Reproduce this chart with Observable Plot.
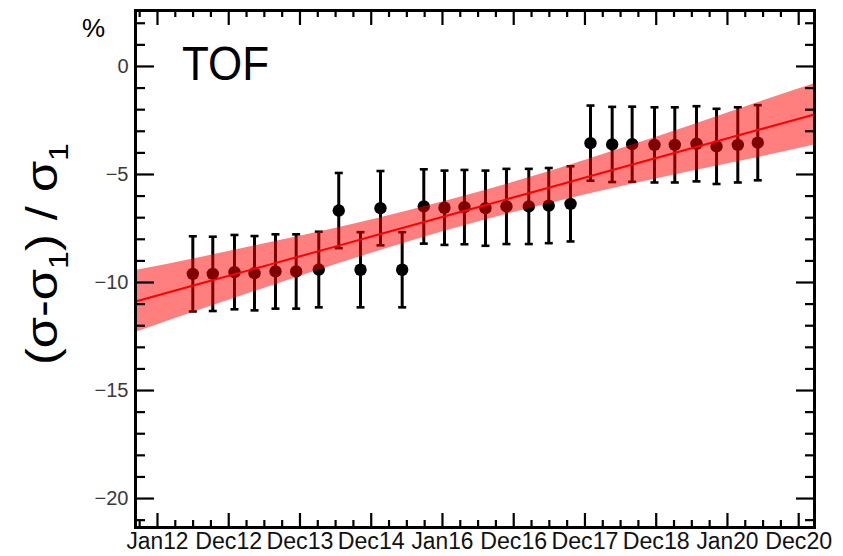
<!DOCTYPE html>
<html>
<head>
<meta charset="utf-8">
<script src="https://cdn.jsdelivr.net/npm/d3@7"></script>
<script src="https://cdn.jsdelivr.net/npm/@observablehq/plot@0.6"></script>
<style>
  html, body { margin: 0; padding: 0; background: #fff; }
  #chart { position: relative; width: 843px; height: 556px; }
  #chart svg { display: block; }
</style>
</head>
<body>
<div id="chart"></div>
<script>
// Time axis: labelled major ticks (decimal years) and their labels
const tickLabels = ["Jan12", "Dec12", "Dec13", "Dec14", "Jan16", "Dec16", "Dec17", "Dec18", "Jan20", "Dec20"];
const tickYears = [2012.000, 2012.992, 2013.984, 2014.976, 2015.968, 2016.960, 2017.952, 2018.944, 2019.936, 2020.928];

// Y axis labelled ticks (%)
const yTickValues = [-20, -15, -10, -5, 0];

// Measurements: time (decimal year), relative deviation (%), and error (%)
const measTime = [
  2012.492, 2012.770, 2013.072, 2013.351, 2013.643, 2013.931, 2014.246, 2014.524,
  2014.827, 2015.105, 2015.407, 2015.708, 2015.996, 2016.274, 2016.567, 2016.859,
  2017.170, 2017.448, 2017.751, 2018.029, 2018.331, 2018.609, 2018.920, 2019.203,
  2019.505, 2019.784, 2020.080, 2020.358
];
const measValue = [
  -9.60, -9.60, -9.52, -9.57, -9.49, -9.49, -9.40, -6.67,
  -9.41, -6.56, -9.41, -6.48, -6.54, -6.51, -6.56, -6.48,
  -6.48, -6.44, -6.36, -3.55, -3.61, -3.60, -3.63, -3.63,
  -3.58, -3.70, -3.63, -3.53
];
const measError = [
  1.74, 1.72, 1.72, 1.72, 1.72, 1.72, 1.75, 1.74,
  1.74, 1.72, 1.74, 1.72, 1.72, 1.72, 1.74, 1.74,
  1.74, 1.74, 1.74, 1.74, 1.74, 1.74, 1.74, 1.74,
  1.74, 1.74, 1.74, 1.74
];

// Linear fit with its confidence band
const fitTime = [2011.694, 2012.599, 2013.573, 2014.548, 2015.523, 2016.497, 2017.472, 2018.447, 2019.421, 2020.396, 2021.148];
const fitMid  = [-10.88, -10.05, -9.16, -8.27, -7.37, -6.48, -5.59, -4.69, -3.80, -2.91, -2.22];
const fitHigh = [-9.45, -8.84, -8.15, -7.44, -6.65, -5.80, -4.85, -3.81, -2.74, -1.63, -0.80];
const fitLow  = [-12.31, -11.26, -10.17, -9.10, -8.09, -7.16, -6.33, -5.57, -4.86, -4.19, -3.64];

const points = measTime.map((t, i) => ({t, v: measValue[i], e: measError[i]}));
const band = fitTime.map((t, i) => ({t, mid: fitMid[i], lo: fitLow[i], hi: fitHigh[i]}));

// Minor ticks: quarter divisions of the time axis, one unit on the y axis
const xStep = tickYears[1] - tickYears[0];
const xMinor = [tickYears[0] - xStep / 4];
tickYears.forEach((t, i) => { if (i < tickYears.length - 1) for (let k = 1; k < 4; k++) xMinor.push(t + k * xStep / 4); });
const yMinor = d3.range(-21, 3).filter(v => v % 5 !== 0);

const W = 843, H = 556;
const mL = 135, mR = 29, mT = 10, mB = 29;
const fw = W - mL - mR, fh = H - mT - mB;
const FONT = "'Liberation Sans', Arial, sans-serif";

// Horizontal tick bar used as the error-bar cap
const capSymbol = {
  draw(context, size) {
    const w = Math.sqrt(size / Math.PI);
    context.moveTo(-w, 0);
    context.lineTo(w, 0);
  }
};

const plot = Plot.plot({
  width: W,
  height: H,
  marginLeft: mL,
  marginRight: mR,
  marginTop: mT,
  marginBottom: mB,
  style: {fontFamily: FONT, background: "#fff", color: "#000"},
  x: {domain: [2011.694, 2021.148], label: null},
  y: {domain: [-21.34, 2.59], label: null},
  marks: [
    // error bars and measurements
    Plot.ruleX(points, {x: "t", y1: d => d.v - d.e, y2: d => d.v + d.e, stroke: "black", strokeWidth: 3}),
    Plot.dot(points, {x: "t", y: d => d.v + d.e, symbol: capSymbol, r: 4, stroke: "black", strokeWidth: 2.6}),
    Plot.dot(points, {x: "t", y: d => d.v - d.e, symbol: capSymbol, r: 4, stroke: "black", strokeWidth: 2.6}),
    Plot.dot(points, {x: "t", y: "v", r: 6.2, fill: "black"}),
    // fit band and fitted line
    Plot.areaY(band, {x: "t", y1: "lo", y2: "hi", fill: "#ff0000", fillOpacity: 0.5, curve: "monotone-x"}),
    Plot.lineY(band, {x: "t", y: "mid", stroke: "#ff0000", strokeWidth: 2, curve: "monotone-x"}),
    // inward ticks on all four sides
    Plot.tickY(yTickValues, {y: d => d, insetRight: fw - 19, stroke: "black", strokeWidth: 2.2}),
    Plot.tickY(yMinor, {y: d => d, insetRight: fw - 10, stroke: "black", strokeWidth: 2.2}),
    Plot.tickY(yTickValues, {y: d => d, insetLeft: fw - 18, stroke: "black", strokeWidth: 2.2}),
    Plot.tickY(yMinor, {y: d => d, insetLeft: fw - 9, stroke: "black", strokeWidth: 2.2}),
    Plot.tickX(tickYears, {x: d => d, insetTop: fh - 14, stroke: "black", strokeWidth: 2.2}),
    Plot.tickX(xMinor, {x: d => d, insetTop: fh - 7, stroke: "black", strokeWidth: 2.2}),
    Plot.tickX(tickYears, {x: d => d, insetBottom: fh - 15, stroke: "black", strokeWidth: 2.2}),
    Plot.tickX(xMinor, {x: d => d, insetBottom: fh - 7, stroke: "black", strokeWidth: 2.2}),
    Plot.frame({stroke: "black", strokeWidth: 3}),
    // tick labels
    Plot.axisY(yTickValues, {tickSize: 0, tickPadding: 7, fontSize: 20, fill: "#3a3a3a",
      tickFormat: d => d === 0 ? "0" : "\u2212" + Math.abs(d)}),
    Plot.axisX(tickYears, {tickSize: 0, tickPadding: 5, fontSize: 23, fill: "#111",
      tickFormat: d => tickLabels[tickYears.indexOf(d)]})
  ]
});

const svg = d3.select(plot);

// widen the date labels to the axis font's proportions
svg.selectAll("g[aria-label='x-axis tick label'] text")
  .attr("textLength", function() { return this.textContent.startsWith("Jan") ? 62 : 67; })
  .attr("lengthAdjust", "spacingAndGlyphs");

// detector name inside the frame
svg.append("text")
  .attr("x", 182).attr("y", 80)
  .attr("text-anchor", "start")
  .attr("font-family", FONT)
  .attr("font-size", 48)
  .attr("textLength", 87).attr("lengthAdjust", "spacingAndGlyphs")
  .attr("fill", "black")
  .text("TOF");

// unit above the y axis
svg.append("text")
  .attr("x", 82).attr("y", 37)
  .attr("text-anchor", "start")
  .attr("font-family", FONT)
  .attr("font-size", 26)
  .attr("fill", "black")
  .text("%");

// y axis title with subscripts
const yt = svg.append("text")
  .attr("transform", "translate(57,254) rotate(-90)")
  .attr("text-anchor", "middle")
  .attr("font-family", FONT)
  .attr("font-size", 44)
  .attr("fill", "black")
  .attr("textLength", 222).attr("lengthAdjust", "spacingAndGlyphs");
yt.append("tspan").text("(\u03c3-\u03c3");
yt.append("tspan").attr("font-size", 28).attr("dy", 11).text("1");
yt.append("tspan").attr("dy", -11).text(") / \u03c3");
yt.append("tspan").attr("font-size", 28).attr("dy", 11).text("1");

document.getElementById("chart").appendChild(plot);
</script>
</body>
</html>
